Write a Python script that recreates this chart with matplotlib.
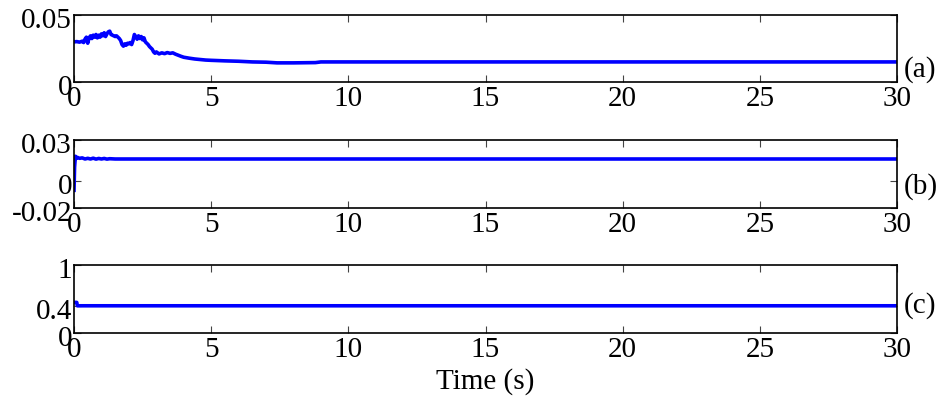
"""
Three stacked time responses, (a)-(c), sharing a 0-30 s time axis.
Writes out.png.
"""

import matplotlib
matplotlib.use("Agg")
import matplotlib.pyplot as plt
import matplotlib.transforms as mtransforms

# ---------------------------------------------------------------------------
# Data
# ---------------------------------------------------------------------------
T_A = [0.00, 0.10, 0.20, 0.30, 0.35, 0.40, 0.45, 0.50, 0.55, 0.60, 0.65, 0.70,
       0.75, 0.80, 0.85, 0.90, 0.95, 1.00, 1.05, 1.10, 1.15, 1.20, 1.25, 1.30,
       1.35, 1.40, 1.45, 1.50, 1.55, 1.60, 1.65, 1.70, 1.75, 1.80, 1.85, 1.90,
       1.95, 2.00, 2.05, 2.10, 2.15, 2.20, 2.25, 2.30, 2.35, 2.40, 2.45, 2.50,
       2.55, 2.60, 2.65, 2.70, 2.75, 2.80, 2.85, 2.90, 2.95, 3.00, 3.10, 3.20,
       3.30, 3.40, 3.50, 3.60, 3.70, 3.80, 3.90, 4.00, 4.20, 4.40, 4.60, 4.80,
       5.00, 5.50, 6.00, 6.50, 7.00, 7.40, 8.00, 8.80, 9.00, 30.0]
V_A = [0.0300, 0.0302, 0.0298, 0.0305, 0.0295, 0.0320, 0.0335, 0.0290, 0.0330,
       0.0345, 0.0325, 0.0350, 0.0335, 0.0355, 0.0330, 0.0350, 0.0335, 0.0360,
       0.0345, 0.0368, 0.0340, 0.0360, 0.0375, 0.0380, 0.0355, 0.0350, 0.0345,
       0.0340, 0.0345, 0.0335, 0.0325, 0.0310, 0.0280, 0.0268, 0.0285, 0.0275,
       0.0290, 0.0285, 0.0295, 0.0280, 0.0310, 0.0355, 0.0340, 0.0320, 0.0345,
       0.0325, 0.0340, 0.0315, 0.0330, 0.0300, 0.0290, 0.0280, 0.0265, 0.0255,
       0.0245, 0.0225, 0.0215, 0.0225, 0.0210, 0.0218, 0.0212, 0.0220, 0.0214,
       0.0218, 0.0208, 0.0200, 0.0192, 0.0185, 0.0178, 0.0172, 0.0168, 0.0164,
       0.0162, 0.0158, 0.0155, 0.0150, 0.0148, 0.0143, 0.0143, 0.0145, 0.0150,
       0.0150]

T_B = [0.00, 0.02, 0.05, 0.08, 0.12, 0.20, 0.30, 0.40, 0.50, 0.60, 0.70, 0.80,
       0.90, 1.00, 1.10, 1.20, 1.30, 1.50, 30.0]
V_B = [-0.007, 0.010, 0.018, 0.0165, 0.0172, 0.0165, 0.0168, 0.0160, 0.0165,
       0.0160, 0.0166, 0.0159, 0.0164, 0.0160, 0.0164, 0.0159, 0.0162, 0.0160,
       0.0160]

T_C = [0.00, 0.10, 0.12, 30.0]
V_C = [0.45, 0.45, 0.40, 0.40]

X_TICKS = [0, 5, 10, 15, 20, 25, 30]
Y_TICKS = [[0, 0.05], [-0.02, 0, 0.03], [0, 0.4, 1]]
Y_TICKLABELS = [["0", "0.05"], ["-0.02", "0", "0.03"], ["0", "0.4", "1"]]
Y_LIMS = [(0, 0.05), (-0.02, 0.03), (0, 1)]
PANEL_TAGS = ["(a)", "(b)", "(c)"]
TAG_Y = [0.18, 0.31, 0.40]

# ---------------------------------------------------------------------------
# Figure
# ---------------------------------------------------------------------------
plt.rcParams["font.family"] = ["Liberation Serif", "DejaVu Serif"]

fig = plt.figure(figsize=(9.43, 3.98), dpi=100)

left, width = 0.0785, 0.8727
bottoms = [0.794, 0.4774, 0.1633]
heights = [0.168, 0.171, 0.171]

series = [(T_A, V_A), (T_B, V_B), (T_C, V_C)]

# MATLAB-style y labels sit a few pixels below their tick
shift_down = mtransforms.ScaledTranslation(0, -3 / 100, fig.dpi_scale_trans)

for i, (t, v) in enumerate(series):
    ax = fig.add_axes([left, bottoms[i], width, heights[i]])
    ax.plot(t, v, color="#0000ff", linewidth=2.6)
    ax.set_xlim(0, 30)
    ax.set_ylim(*Y_LIMS[i])
    ax.set_xticks(X_TICKS)
    ax.set_xticklabels([str(x) for x in X_TICKS])
    ax.set_yticks(Y_TICKS[i])
    ax.set_yticklabels(Y_TICKLABELS[i])
    ax.tick_params(direction="in", top=True, right=True, length=5, width=0.8,
                   labelsize=21, color="#444444")
    ax.tick_params(axis="x", pad=3)
    ax.tick_params(axis="y", pad=1.5)
    for lab in ax.get_yticklabels():
        lab.set_transform(lab.get_transform() + shift_down)
    for s in ax.spines.values():
        s.set_linewidth(1.2)
    ax.text(1.0085, TAG_Y[i], PANEL_TAGS[i], transform=ax.transAxes,
            fontsize=21, ha="left", va="center")

fig.text(485 / 943, 1 - 382 / 398, "Time (s)", fontsize=21,
         ha="center", va="center")

fig.savefig("out.png", dpi=100)
